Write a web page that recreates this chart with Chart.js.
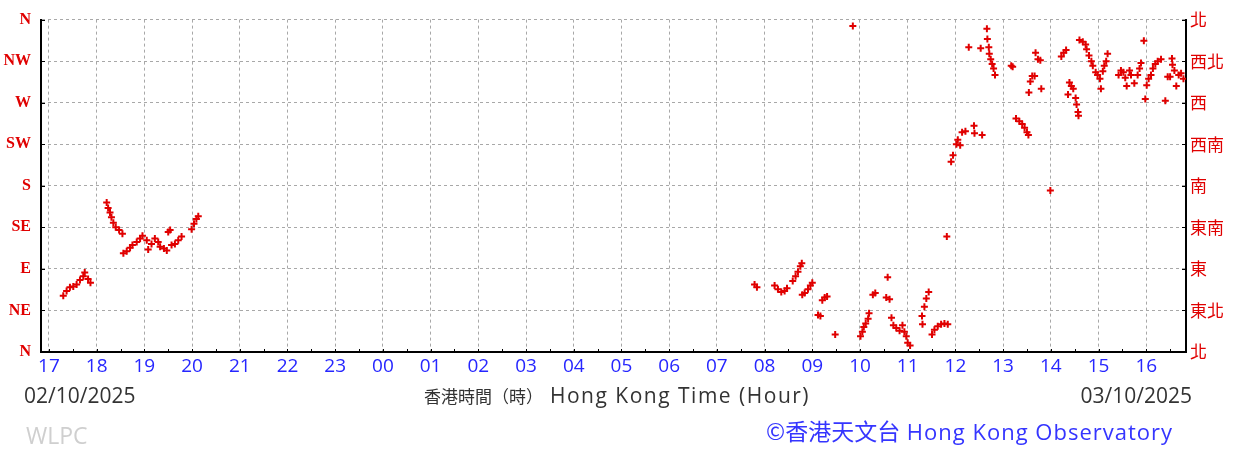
<!DOCTYPE html>
<html>
<head>
<meta charset="utf-8">
<script src="https://cdn.jsdelivr.net/npm/chart.js@4/dist/chart.umd.min.js"></script>
<style>
  body { margin: 0; background: #fff; }
  #wrap { position: relative; width: 1243px; height: 453px; }
  #windChart { position: absolute; left: 0; top: 0; }
  .lbl { position: absolute; white-space: nowrap; font-family: "Open Sans", sans-serif; line-height: 1; }
  .zh { font-family: "Noto Sans CJK TC", sans-serif; letter-spacing: 0; }
</style>
</head>
<body>
<div id="wrap">
  <canvas id="windChart" width="1243" height="453"></canvas>
  <div class="lbl" style="left:24px; top:385px; font-size:21px; color:#333;">02/10/2025</div>
  <div class="lbl" style="left:424px; top:385px; font-size:21px; letter-spacing:1.5px; color:#333;"><span class="zh" style="font-size:17px;">香港時間（時）</span> Hong Kong Time (Hour)</div>
  <div class="lbl" style="right:51px; top:385px; font-size:21px; color:#333;">03/10/2025</div>
  <div class="lbl" style="left:26px; top:424px; font-size:23px; color:#cfcfcf;">WLPC</div>
  <div class="lbl" style="left:766px; top:419px; font-size:22px; letter-spacing:1px; color:#3535ff;"><span class="zh" style="font-size:23px;">©香港天文台</span> Hong Kong Observatory</div>
</div>
<script>
// wind direction readings, 02/10/2025 (clock hour, degrees)
const day1Hours = [17.30, 17.37, 17.44, 17.51, 17.58, 17.65, 17.72, 17.75, 17.82, 17.87,
  18.21, 18.24, 18.28, 18.31, 18.35, 18.40, 18.47, 18.54,
  18.56, 18.63, 18.70, 18.75, 18.84, 18.91, 18.96,
  19.05, 19.08, 19.15, 19.22, 19.29, 19.33, 19.41, 19.47, 19.50, 19.54, 19.57, 19.64, 19.71, 19.78,
  19.99, 20.04, 20.09, 20.13];
const day1Dirs = [61, 66, 70, 71, 73, 78, 82, 86, 79, 75,
  162, 156, 151, 146, 140, 135, 132, 128,
  107, 109, 113, 116, 119, 123, 126,
  121, 111, 117, 123, 119, 114, 112, 110, 130, 132, 116, 117, 121, 125,
  133, 139, 144, 147];

// wind direction readings, 03/10/2025 (clock hour, degrees)
const day2Hours = [7.79, 7.84, 8.21, 8.28, 8.35, 8.42, 8.47, 8.59, 8.65, 8.70, 8.75, 8.78,
  8.79, 8.84, 8.91, 8.96, 9.00, 9.12, 9.17, 9.21, 9.26, 9.31, 9.48, 9.85,
  10.01, 10.05, 10.08, 10.12, 10.17, 10.19, 10.27, 10.32, 10.55, 10.58, 10.62,
  10.66, 10.70, 10.76, 10.83, 10.89, 10.93, 10.97, 11.00, 11.05,
  11.30, 11.31, 11.35, 11.39, 11.44, 11.51, 11.56, 11.63, 11.70, 11.77, 11.84, 11.82,
  11.91, 11.95, 12.02, 12.05, 12.10, 12.14, 12.21, 12.39, 12.40, 12.56,
  12.28, 12.53, 12.66, 12.67, 12.70, 12.71, 12.74, 12.77, 12.80, 12.83,
  13.17, 13.20, 13.27, 13.34, 13.40, 13.45, 13.50, 13.53,
  13.54, 13.57, 13.61, 13.66, 13.80, 13.68, 13.73, 13.78, 13.99,
  14.22, 14.27, 14.32, 14.36, 14.39, 14.43, 14.47, 14.52, 14.54, 14.57, 14.58,
  14.60, 14.67, 14.73, 14.75, 14.80, 14.85, 14.88, 14.94, 14.98, 15.03, 15.05,
  15.09, 15.12, 15.16, 15.19, 15.42, 15.47, 15.52, 15.56, 15.59, 15.65, 15.68, 15.75,
  15.82, 15.86, 15.89, 15.95, 15.98, 16.01, 16.05, 16.10, 16.14, 16.19, 16.24, 16.31,
  16.40, 16.45, 16.50, 16.54, 16.55, 16.59, 16.63, 16.68, 16.73, 16.78];
const day2Dirs = [73, 70, 72, 68, 65, 66, 69, 77, 82, 87, 93, 96,
  62, 64, 68, 72, 75, 40, 39, 56, 59, 60, 19, 353,
  17, 22, 27, 31, 36, 42, 62, 64, 59, 81, 57,
  37, 29, 26, 23, 29, 22, 17, 10, 7,
  39, 30, 49, 58, 65, 19, 24, 28, 30, 31, 30, 125,
  206, 213, 225, 230, 224, 238, 239, 245, 237, 235,
  330, 329, 350, 339, 330, 323, 317, 312, 307, 300,
  310, 309, 253, 250, 247, 243, 238, 235,
  281, 293, 299, 299, 285, 324, 317, 316, 175,
  320, 324, 327, 279, 292, 288, 285, 275, 268, 260, 256,
  338, 336, 333, 328, 321, 315, 310, 303, 300, 296, 285,
  304, 310, 315, 323, 300, 305, 303, 297, 288, 305, 300, 291,
  300, 307, 313, 337, 274, 289, 296, 300, 307, 312, 315, 317,
  272, 298, 298, 318, 311, 305, 288, 300, 302, 296];

// axis labels
const dirLabelsEn = ["N", "NE", "E", "SE", "S", "SW", "W", "NW", "N"];
const dirLabelsZh = ["北", "東北", "東", "東南", "南", "西南", "西", "西北", "北"];
// half-hour tick positions on the continuous axis (17:00 day 1 .. 16:30 day 2)
const hourTicks = [17, 17.5, 18, 18.5, 19, 19.5, 20, 20.5, 21, 21.5, 22, 22.5, 23, 23.5,
  24, 24.5, 25, 25.5, 26, 26.5, 27, 27.5, 28, 28.5, 29, 29.5, 30, 30.5, 31, 31.5,
  32, 32.5, 33, 33.5, 34, 34.5, 35, 35.5, 36, 36.5, 37, 37.5, 38, 38.5, 39, 39.5, 40, 40.5];

// build points on a continuous hour axis (day 2 shifted by 24 h)
const points = [];
day1Hours.forEach((h, i) => points.push({ x: h, y: day1Dirs[i] }));
day2Hours.forEach((h, i) => points.push({ x: h + 24, y: day2Dirs[i] }));

const isWhole = v => Math.abs(v - Math.round(v)) < 1e-6;

// short solid ticks drawn just inside the frame
const innerTicks = {
    id: "innerTicks",
    afterDatasetsDraw(chart) {
        const { ctx, chartArea, scales } = chart;
        ctx.save();
        ctx.strokeStyle = "#000";
        ctx.lineWidth = 1;
        ctx.beginPath();
        scales.y.ticks.forEach(t => {
            const y = Math.round(scales.y.getPixelForValue(t.value)) + 0.5;
            ctx.moveTo(chartArea.left, y);
            ctx.lineTo(chartArea.left + 4, y);
            ctx.moveTo(chartArea.right - 4, y);
            ctx.lineTo(chartArea.right, y);
        });
        scales.x.ticks.forEach(t => {
            const x = Math.round(scales.x.getPixelForValue(t.value)) + 0.5;
            ctx.moveTo(x, chartArea.bottom);
            ctx.lineTo(x, chartArea.bottom - 3);
        });
        ctx.stroke();
        ctx.restore();
    }
};

const ctx = document.getElementById("windChart").getContext("2d");
new Chart(ctx, {
    type: "scatter",
    data: {
        datasets: [{
            label: "Wind direction",
            data: points,
            pointStyle: "cross",
            pointRadius: 3.5,
            borderWidth: 2,
            borderColor: "#e00000",
            backgroundColor: "#e00000",
        }],
    },
    options: {
        responsive: false,
        animation: false,
        layout: { padding: { top: 13, left: 0, right: 0, bottom: 0 } },
        plugins: { legend: { display: false }, tooltip: { enabled: false } },
        scales: {
            x: {
                type: "linear",
                min: 16 + 50 / 60,
                max: 40 + 50 / 60,
                afterBuildTicks: s => { s.ticks = hourTicks.map(v => ({ value: v })); },
                afterFit: s => { s.height = 101; },
                border: { color: "#000", width: 2, dash: [3, 3] },
                grid: {
                    color: c => (c.tick && isWhole(c.tick.value) ? "#a8a8a8" : "rgba(0,0,0,0)"),
                    lineWidth: 1,
                    drawTicks: false,
                },
                ticks: {
                    autoSkip: false,
                    maxRotation: 0,
                    padding: 3,
                    color: "#2626ff",
                    font: { family: "Open Sans", size: 19 },
                    callback: v => (isWhole(v) ? String(Math.round(v) % 24).padStart(2, "0") : ""),
                },
            },
            y: {
                position: "left",
                min: 0,
                max: 360,
                afterFit: s => { s.width = 41; },
                border: { color: "#000", width: 2, dash: [3, 3] },
                grid: { color: "#a8a8a8", lineWidth: 1, drawTicks: false },
                ticks: {
                    stepSize: 45,
                    padding: 10,
                    color: "#e00000",
                    font: { family: "Liberation Serif", size: 16, weight: "bold" },
                    callback: (v, i) => dirLabelsEn[i],
                },
            },
            y2: {
                position: "right",
                min: 0,
                max: 360,
                afterFit: s => { s.width = 57; },
                border: { color: "#000", width: 2 },
                grid: { drawOnChartArea: false, drawTicks: false },
                ticks: {
                    stepSize: 45,
                    padding: 4,
                    color: "#e00000",
                    font: { family: "Noto Sans CJK TC", size: 17 },
                    callback: (v, i) => dirLabelsZh[i],
                },
            },
        },
    },
    plugins: [innerTicks],
});
</script>
</body>
</html>
